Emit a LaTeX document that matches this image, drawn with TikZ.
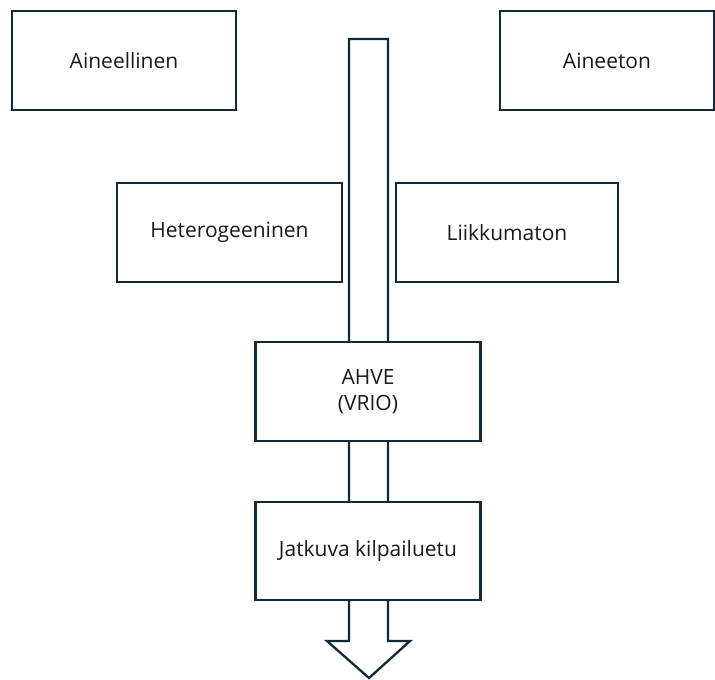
\documentclass[tikz,border=0pt]{standalone}
\usepackage{fontspec}
\setmainfont{Open Sans}
\definecolor{edge}{HTML}{10293B}
\definecolor{txt}{HTML}{1A1A1A}
\begin{document}
\begin{tikzpicture}[x=1pt,y=-1pt,
  box/.style={draw=edge,line width=2.3pt,fill=white,rectangle,inner sep=0pt,
    minimum height=99pt,align=center,text=txt,font=\fontsize{21}{26}\selectfont}]
\useasboundingbox (0,0) rectangle (715,680);
% big arrow behind
\draw[draw=edge,line width=2.3pt,fill=white,line join=miter]
  (349,39) -- (388,39) -- (388,641) -- (410,641) -- (369,678) -- (327,641) -- (349,641) -- cycle;
\node[box,minimum width=224pt] (aine) at (124,60.5) {Aineellinen};
\node[box,minimum width=214pt] (aineeton) at (607,60.5) {Aineeton};
\node[box,minimum width=225pt] (hetero) at (229.5,232.5) {Heterogeeninen};
\node[box,minimum width=222pt] (liik) at (507,232.5) {Liikkumaton};
\node[box,minimum width=225pt] (ahve) at (368,391.5) {AHVE\\(VRIO)};
\node[box,minimum width=225pt,minimum height=98pt] (jatk) at (368,551) {Jatkuva kilpailuetu};
\end{tikzpicture}
\end{document}
